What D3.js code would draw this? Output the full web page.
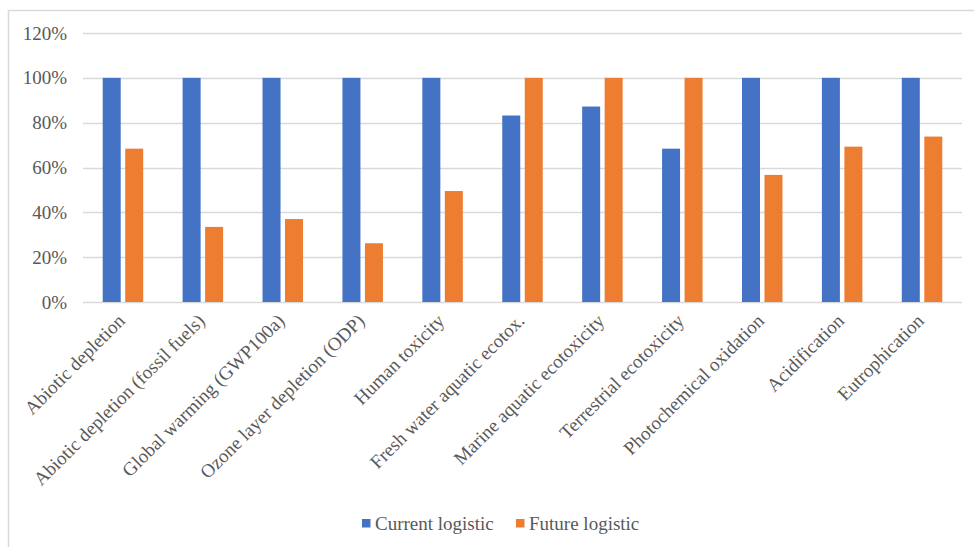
<!DOCTYPE html>
<html><head><meta charset="utf-8">
<script src="https://cdn.jsdelivr.net/npm/d3@7"></script>
<style>html,body{margin:0;padding:0;background:#fff;}svg{display:block;}</style>
</head><body>
<script>
const categories = ["Abiotic depletion","Abiotic depletion (fossil fuels)","Global warming (GWP100a)","Ozone layer depletion (ODP)","Human toxicity","Fresh water aquatic ecotox.","Marine aquatic ecotoxicity","Terrestrial ecotoxicity","Photochemical oxidation","Acidification","Eutrophication"];
const currentLogistic = [100,100,100,100,100,83.2,87.2,68.4,100,100,100];
const futureLogistic = [68.4,33.5,37,26.2,49.5,100,100,100,56.7,69.3,73.8];
const seriesNames = ["Current logistic","Future logistic"];
const yTicks = [0,20,40,60,80,100,120];

(function(){
const W=974,H=547;
const colors=["#4472c4","#ed7d31"];
const svg=d3.select("body").append("svg").attr("width",W).attr("height",H);
svg.append("rect").attr("width",W).attr("height",H).attr("fill","#fff");
// frame
svg.append("rect").attr("x",8.5).attr("y",10.5).attr("width",W+10).attr("height",H+10)
  .attr("fill","none").attr("stroke","#d9d9d9").attr("stroke-width",1.5);

const pLeft=83,pRight=962,pTop=33,pBottom=302;
const x=d3.scaleBand().domain(categories).range([pLeft,pRight]).paddingInner(0).paddingOuter(0);
const y=d3.scaleLinear().domain([0,120]).range([pBottom,pTop]);
const font="'Liberation Serif','Times New Roman',serif";
const fs=19;

// gridlines
svg.append("g").selectAll("line").data(yTicks).join("line")
  .attr("x1",pLeft).attr("x2",pRight).attr("y1",d=>Math.round(y(d))+0.5).attr("y2",d=>Math.round(y(d))+0.5)
  .attr("stroke","#d9d9d9").attr("stroke-width",1.5);

// y axis labels
const yAxis=d3.axisLeft(y).tickValues(yTicks).tickFormat(d=>d+"%").tickSize(0).tickPadding(16);
const ga=svg.append("g").attr("transform",`translate(${pLeft},0)`).call(yAxis);
ga.select(".domain").remove();
ga.selectAll("text").attr("font-family",font).attr("font-size",fs).attr("fill","#595959");

// bars
const bw=18, gap=4.5;
const g=svg.append("g");
categories.forEach((c,i)=>{
  const cx=x(c)+x.bandwidth()/2;
  [currentLogistic[i],futureLogistic[i]].forEach((v,j)=>{
    const x0 = j===0 ? cx-gap/2-bw : cx+gap/2;
    g.append("rect").attr("x",x0).attr("width",bw)
      .attr("y",y(v)).attr("height",y(0)-y(v)).attr("fill",colors[j]);
  });
});

// x labels
const xl=svg.append("g");
categories.forEach(c=>{
  const cx=x(c)+x.bandwidth()/2;
  xl.append("text").attr("transform",`translate(${cx+3},${pBottom+20}) rotate(-45)`)
    .attr("text-anchor","end").attr("font-family",font).attr("font-size",fs).attr("fill","#595959")
    .text(c);
});

// legend
const leg=svg.append("g");
const legItems=[{n:seriesNames[0],x:362},{n:seriesNames[1],x:516}];
legItems.forEach((it,i)=>{
  leg.append("rect").attr("x",it.x).attr("y",519).attr("width",8.5).attr("height",8.5).attr("fill",colors[i]);
  leg.append("text").attr("x",it.x+13).attr("y",529.5).attr("font-family",font).attr("font-size",fs).attr("fill","#595959").text(it.n);
});
})();
</script>
</body></html>
